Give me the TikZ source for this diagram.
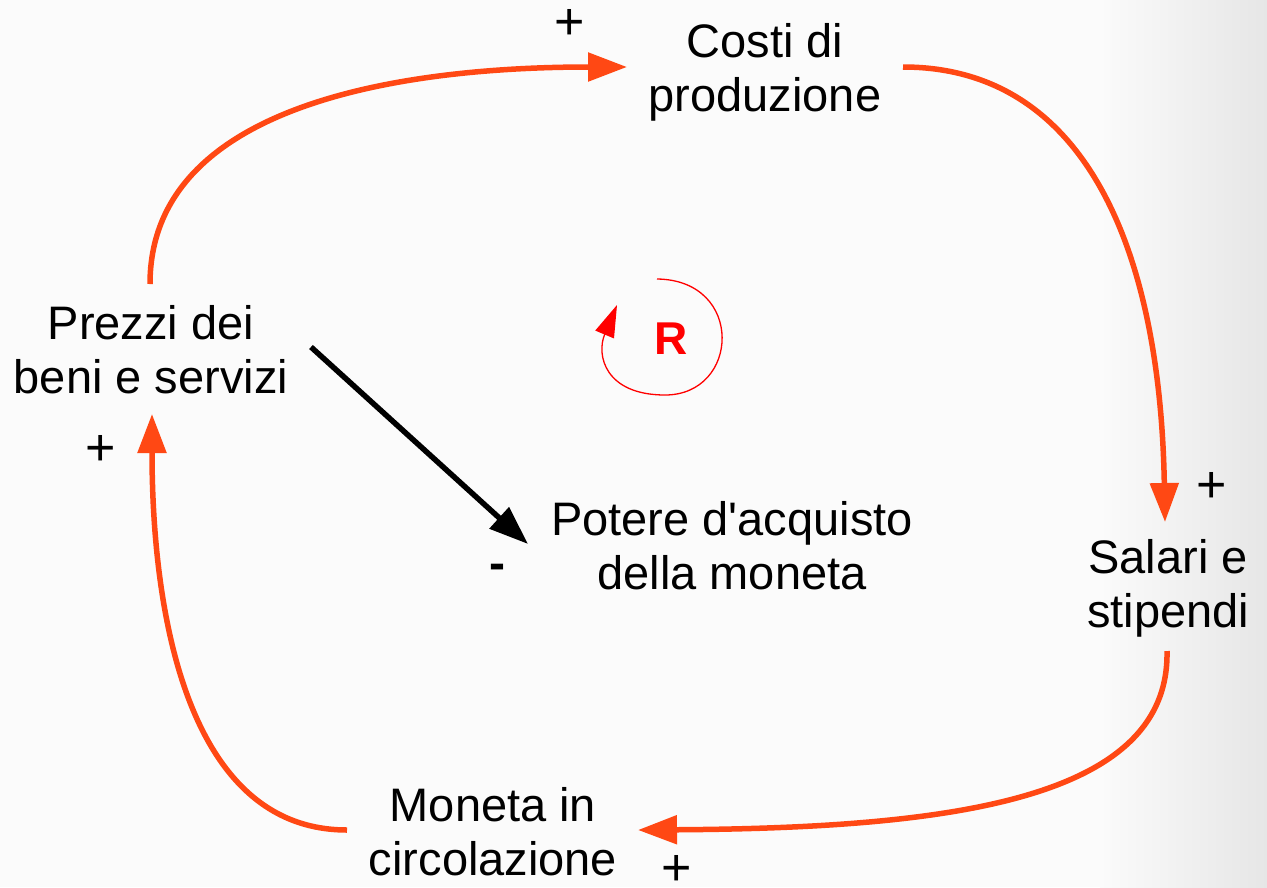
\documentclass[tikz,border=0pt]{standalone}
\usepackage{fontspec}
\setmainfont{Liberation Sans}
\usetikzlibrary{arrows.meta}
\definecolor{loopred}{RGB}{255,72,20}
\definecolor{bgl}{RGB}{251,251,251}
\definecolor{bgr}{RGB}{230,230,230}
\tikzset{
  x=1pt,y=-1pt,
  var/.style={align=center,font=\fontsize{47}{54}\selectfont,inner sep=0pt},
  sign/.style={font=\fontsize{52}{52}\selectfont,inner sep=0pt},
  link/.style={draw=loopred,line width=5.5pt,-{Triangle[length=39pt,width=28pt]}},
  neg/.style={draw=black,line width=5.5pt,-{Triangle[length=39pt,width=28pt]}},
}
\begin{document}
\begin{tikzpicture}
\useasboundingbox (0,0) rectangle (1267,887);
\fill[bgl] (0,0) rectangle (1267,887);
\shade[left color=bgl,right color=bgr] (1100,0) rectangle (1267,887);

\node[var] (costi) at (765,72) {Costi di\\produzione};
\node[var] (prezzi) at (151,350) {Prezzi dei\\beni e servizi};
\node[var] (potere) at (732,546) {Potere d\textquotesingle acquisto\\della moneta};
\node[var] (salari) at (1168,588) {Salari e\\stipendi};
\node[var] (moneta) at (493,832) {Moneta in\\circolazione};

\coordinate (p1s) at (150,284);
\coordinate (p1e) at (627,67);
\coordinate (p2s) at (903,67);
\coordinate (p2e) at (1165,522);
\coordinate (p3s) at (1167,651);
\coordinate (p3e) at (638,830);
\coordinate (p4s) at (347,830);
\coordinate (p4e) at (152,414);
\coordinate (nbs) at (311,347);
\coordinate (nbe) at (528,544);

\draw[link] (p1s) .. controls (150,105) and (400,67) .. (p1e);
\draw[link] (p2s) .. controls (1080,67) and (1160,240) .. (p2e);
\draw[link] (p3s) .. controls (1170,800) and (950,828) .. (p3e);
\draw[link] (p4s) .. controls (190,830) and (152,620) .. (p4e);
\draw[neg] (nbs) -- (nbe);

\node[sign] (s1) at (570,24) {+};
\node[sign] (s2) at (1212,487) {+};
\node[sign] (s3) at (101,450) {+};
\node[sign] (s4) at (677,870) {+};
\node[sign,font=\fontsize{48}{48}\selectfont\bfseries] (s5) at (497,572) {-};

\node[text=red,font=\fontsize{46}{46}\selectfont\bfseries,inner sep=0pt] (R) at (671,339) {R};
\coordinate (rs) at (657,279);
\coordinate (re) at (617,305);
\draw[red,line width=1.3pt,-{Triangle[length=32pt,width=20pt]}] (rs) .. controls (745,280) and (740,395) .. (665,395)
  .. controls (605,395) and (596,355) .. (re);
\end{tikzpicture}
\end{document}
